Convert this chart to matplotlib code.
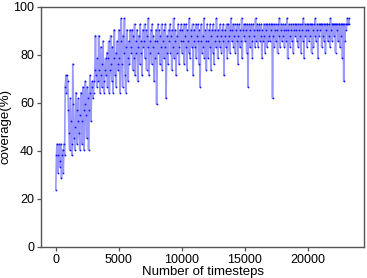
import matplotlib
matplotlib.use("Agg")
import matplotlib.pyplot as plt
import numpy as np

# one sample every 50 timesteps; values are covered cells out of 42
STEP = 50
N_CELLS = 42
LEVEL_BLOCKS = [
    "10 16 18 13 16 18 15 14 18 12 16 17 13 18 16 28 30 27 30 29",
    "24 20 17 26 22 18 16 32 25 19 17 21 27 24 18 22 26 20 17 23",
    "27 22 18 28 24 17 25 29 23 19 28 26 17 24 30 27 22 28 29 26",
    "27 29 31 37 30 28 33 29 37 31 27 35 30 28 32 36 29 27 31 33",
    "30 34 28 33 36 27 31 37 32 29 35 27 33 38 30 34 28 36 32 31",
    "38 33 27 36 40 32 28 37 34 40 30 27 35 38 33 29 36 32 38 34",
    "35 38 31 37 33 39 30 36 34 38 29 35 37 32 39 34 36 30 38 35",
    "36 39 33 38 31 37 35 40 30 36 34 38 32 39 35 37 29 36 33 38",
    "25 36 39 34 38 32 37 35 39 31 36 38 33 35 39 26 34 37 32 38",
    "36 39 34 37 31 38 35 40 33 36 38 30 37 34 39 35 32 38 36 39",
    "34 38 36 39 32 37 35 39 31 38 36 34 40 33 37 38 35 39 30 36",
    "38 35 39 33 37 36 39 32 38 28 36 39 34 37 35 40 33 38 36 31",
    "39 36 33 38 35 39 31 37 38 34 39 32 36 38 35 40 37 33 38 36",
    "35 39 37 34 38 36 39 30 37 38 35 39 33 36 39 37 34 38 40 36",
    "38 39 35 37 39 34 38 36 39 32 37 39 35 38 36 40 33 38 37 39",
    "36 39 38 34 39 28 37 39 35 38 39 36 33 39 37 38 35 40 36 38",
    "39 35 38 39 36 37 39 33 38 36 39 37 34 39 38 35 39 36 37 39",
    "36 39 38 39 26 37 39 35 38 39 36 38 34 39 37 40 35 38 39 36",
    "39 37 38 35 39 38 36 40 33 38 39 37 35 39 38 36 39 34 38 39",
    "37 39 38 36 39 35 38 39 37 34 39 38 36 40 33 39 37 38 39 35",
    "39 38 36 39 37 39 34 39 38 35 39 37 40 36 38 39 33 39 37 39",
    "38 39 35 39 37 39 36 39 34 38 39 39 36 37 39 35 40 38 39 36",
    "39 39 37 39 34 39 38 39 36 39 39 35 39 37 39 33 39 29 39 36",
    "39 38 39 40 39 40 39",
]
X_TICKS = [0, 5000, 10000, 15000, 20000]
Y_TICKS = [0, 20, 40, 60, 80, 100]

levels = np.array([int(v) for block in LEVEL_BLOCKS for v in block.split()])
coverage = levels / N_CELLS * 100
timesteps = np.arange(len(levels)) * STEP

plt.rcParams["font.family"] = ["Liberation Sans", "DejaVu Sans"]
plt.rcParams["font.size"] = 9

fig = plt.figure(figsize=(3.67, 2.78), dpi=100)
ax = fig.add_axes([0.112, 0.112, 0.88, 0.863])

ax.plot(timesteps, coverage, color="#3333ff", alpha=0.5, linewidth=1.2)
ax.plot(timesteps, coverage, "o", color="#0000ff", markersize=1.3,
        markeredgewidth=0, alpha=0.9)

ax.set_ylim(0, 100)
ax.set_xticks(X_TICKS)
ax.set_yticks(Y_TICKS)
ax.set_xlabel("Number of timesteps", fontsize=9.5, labelpad=0)
ax.set_ylabel("coverage(%)", fontsize=9.5, labelpad=1)
for sp in ax.spines.values():
    sp.set_color("#555555")
    sp.set_linewidth(1.0)
ax.tick_params(length=3, width=0.9, color="#555555", pad=2)

fig.savefig("out.png", dpi=100)
